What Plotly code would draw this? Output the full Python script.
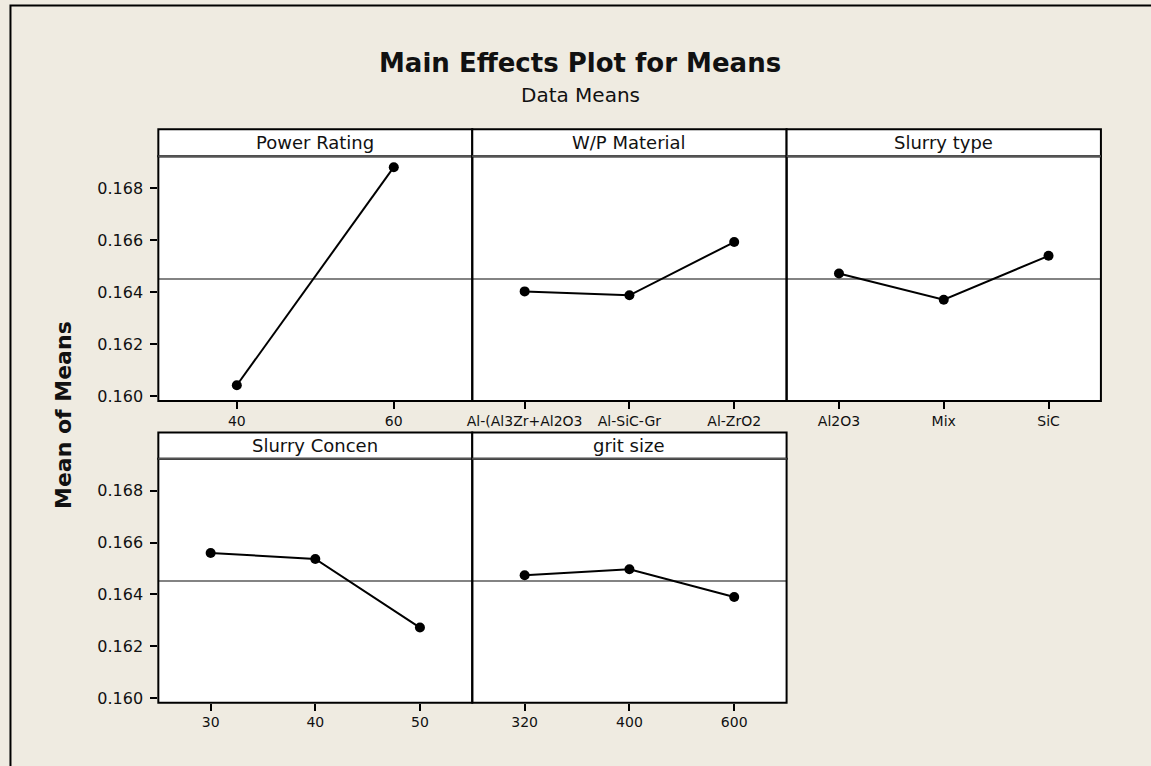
import plotly.graph_objects as go

# ---------------- data ----------------
power_levels = ["40", "60"]
power_means = [0.16043, 0.16882]

wp_levels = ["Al-(Al3Zr+Al2O3", "Al-SiC-Gr", "Al-ZrO2"]
wp_means = [0.16404, 0.16389, 0.16594]

slurry_type_levels = ["Al2O3", "Mix", "SiC"]
slurry_type_means = [0.16473, 0.16372, 0.16541]

slurry_conc_levels = ["30", "40", "50"]
slurry_conc_means = [0.16560, 0.16537, 0.16272]

grit_levels = ["320", "400", "600"]
grit_means = [0.16474, 0.16497, 0.16390]

factor_names = ["Power Rating", "W/P Material", "Slurry type", "Slurry Concen", "grit size"]
grand_mean = 0.16452
y_ticks = [0.160, 0.162, 0.164, 0.166, 0.168]

# ---------------- layout helpers ----------------
W, H = 1151, 766
BG = "#EFEBE1"


def fx(px):
    return px / W


def fy(py):
    return 1 - py / H


top_y = (130.0, 157.3, 403.7)      # header top, plot top, plot bottom
bot_y = (435.3, 461.7, 707.3)
cols = [154.0, 469.3, 785.0, 1100.7]

panels = [
    (factor_names[0], power_levels, power_means, 0, top_y),
    (factor_names[1], wp_levels, wp_means, 1, top_y),
    (factor_names[2], slurry_type_levels, slurry_type_means, 2, top_y),
    (factor_names[3], slurry_conc_levels, slurry_conc_means, 0, bot_y),
    (factor_names[4], grit_levels, grit_means, 1, bot_y),
]

YRANGE = [0.15982, 0.16924]
FONT = "DejaVu Sans, Verdana, sans-serif"

fig = go.Figure()
shapes = []
annotations = []
layout = {}

for i, (name, levels, means, col, rows) in enumerate(panels, start=1):
    xs = list(range(1, len(levels) + 1))
    sfx = "" if i == 1 else str(i)
    fig.add_trace(go.Scatter(
        x=xs, y=means, mode="lines+markers",
        line=dict(color="black", width=2),
        marker=dict(color="black", size=10),
        xaxis="x" + sfx, yaxis="y" + sfx, showlegend=False,
        hoverinfo="skip",
    ))
    x0, x1 = cols[col], cols[col + 1]
    htop, ptop, pbot = rows
    layout["xaxis" + sfx] = dict(
        domain=[fx(x0), fx(x1)], anchor="y" + sfx,
        range=[0.5, len(levels) + 0.5],
        tickmode="array", tickvals=xs, ticktext=levels,
        ticks="outside", ticklen=7, tickwidth=2, tickcolor="black",
        showline=False,
        showgrid=False, zeroline=False, fixedrange=True,
        tickfont=dict(family=FONT, size=14, color="#111111"),
    )
    left = col == 0
    layout["yaxis" + sfx] = dict(
        domain=[fy(pbot), fy(ptop)], anchor="x" + sfx,
        range=YRANGE,
        tickmode="array", tickvals=y_ticks,
        ticktext=[f"{v:.3f}" for v in y_ticks],
        showticklabels=left,
        ticks="outside" if left else "", ticklen=7, tickwidth=2, tickcolor="black",
        ticklabelstandoff=4,
        showline=False,
        showgrid=False, zeroline=False, fixedrange=True,
        tickfont=dict(family=FONT, size=16, color="#111111"),
    )
    # grand mean reference line
    shapes.append(dict(
        type="line", xref=f"x{sfx} domain", yref="y" + sfx,
        x0=0, x1=1, y0=grand_mean, y1=grand_mean,
        line=dict(color="#5a5a5a", width=1.5), layer="below",
    ))
    # plot frame
    shapes.append(dict(
        type="rect", xref="paper", yref="paper",
        x0=fx(x0), x1=fx(x1), y0=fy(pbot), y1=fy(ptop),
        line=dict(color="black", width=2), fillcolor="rgba(0,0,0,0)",
    ))
    # header strip
    shapes.append(dict(
        type="rect", xref="paper", yref="paper",
        x0=fx(x0), x1=fx(x1), y0=fy(ptop), y1=fy(htop),
        fillcolor="white", line=dict(color="black", width=2),
    ))
    shapes.append(dict(
        type="line", xref="paper", yref="paper",
        x0=fx(x0), x1=fx(x1), y0=fy(ptop), y1=fy(ptop),
        line=dict(color="#555555", width=2),
    ))
    annotations.append(dict(
        text=name, xref="paper", yref="paper",
        x=fx((x0 + x1) / 2), y=fy((htop + ptop) / 2),
        xanchor="center", yanchor="middle", showarrow=False,
        font=dict(family=FONT, size=18, color="#111111"),
    ))

# outer frame
shapes.append(dict(
    type="rect", xref="paper", yref="paper",
    x0=fx(5.5), x1=1.05, y0=-0.05, y1=fy(5.5),
    line=dict(color="black", width=2), fillcolor="rgba(0,0,0,0)", layer="below",
))

annotations += [
    dict(text="<b>Main Effects Plot for Means</b>", xref="paper", yref="paper",
         x=fx(578), y=fy(63), xanchor="center", yanchor="middle", showarrow=False,
         font=dict(family=FONT, size=26, color="#111111")),
    dict(text="Data Means", xref="paper", yref="paper",
         x=fx(578), y=fy(96), xanchor="center", yanchor="middle", showarrow=False,
         font=dict(family=FONT, size=20, color="#111111")),
    dict(text="<b>Mean of Means</b>", xref="paper", yref="paper",
         x=fx(59), y=fy(418), xanchor="center", yanchor="middle", showarrow=False,
         textangle=-90,
         font=dict(family=FONT, size=22, color="#111111")),
]

fig.update_layout(
    width=W, height=H,
    margin=dict(l=0, r=0, t=0, b=0),
    paper_bgcolor=BG, plot_bgcolor="white",
    shapes=shapes, annotations=annotations,
    showlegend=False,
    **layout,
)

fig.write_html(
    "out.html",
    config={"displayModeBar": False},
    post_script="document.body.style.margin='0';document.body.style.overflow='hidden';"
                "document.body.style.background='" + BG + "';",
)
